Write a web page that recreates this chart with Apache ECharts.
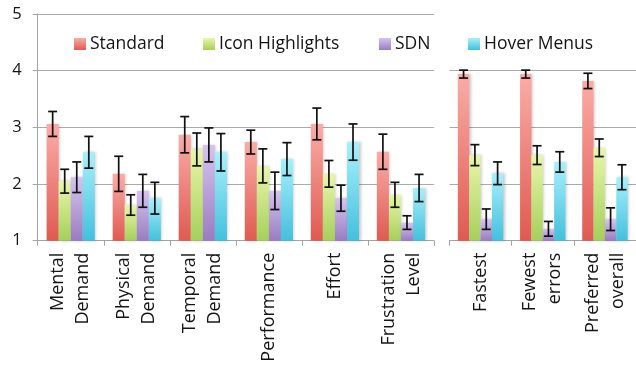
<!DOCTYPE html>
<html>
<head>
<meta charset="utf-8">
<script src="https://cdn.jsdelivr.net/npm/echarts@6/dist/echarts.min.js"></script>
<style>html,body{margin:0;padding:0;background:#fff}#c{width:636px;height:365px}</style>
</head>
<body>
<div id="c"></div>
<script>
const seriesNames = ['Standard', 'Icon Highlights', 'SDN', 'Hover Menus'];
const categoriesLeft = ['Mental\nDemand', 'Physical\nDemand', 'Temporal\nDemand', 'Performance', 'Effort', 'Frustration\nLevel'];
const categoriesRight = ['Fastest', 'Fewest\nerrors', 'Preferred\noverall'];
const yTicks = [1, 2, 3, 4, 5];

const standardLeft = [3.06, 2.18, 2.87, 2.74, 3.06, 2.57];
const standardLeftErr = [0.22, 0.31, 0.32, 0.21, 0.28, 0.31];
const iconLeft = [2.05, 1.63, 2.61, 2.32, 2.18, 1.81];
const iconLeftErr = [0.21, 0.18, 0.29, 0.30, 0.235, 0.22];
const sdnLeft = [2.12, 1.88, 2.69, 1.88, 1.75, 1.32];
const sdnLeftErr = [0.27, 0.29, 0.30, 0.33, 0.23, 0.12];
const hoverLeft = [2.56, 1.75, 2.56, 2.44, 2.74, 1.93];
const hoverLeftErr = [0.28, 0.28, 0.33, 0.29, 0.32, 0.24];

const standardRight = [3.94, 3.94, 3.82];
const standardRightErr = [0.07, 0.07, 0.135];
const iconRight = [2.51, 2.51, 2.64];
const iconRightErr = [0.185, 0.165, 0.155];
const sdnRight = [1.38, 1.21, 1.38];
const sdnRightErr = [0.18, 0.13, 0.20];
const hoverRight = [2.19, 2.39, 2.12];
const hoverRightErr = [0.20, 0.18, 0.22];

const leftVals = [standardLeft, iconLeft, sdnLeft, hoverLeft];
const leftErrs = [standardLeftErr, iconLeftErr, sdnLeftErr, hoverLeftErr];
const rightVals = [standardRight, iconRight, sdnRight, hoverRight];
const rightErrs = [standardRightErr, iconRightErr, sdnRightErr, hoverRightErr];

const FONT = 'Open Sans';
const gradStops = [
  ['#fbaca8', '#df5a51'],
  ['#e8f6aa', '#a6cf5b'],
  ['#d6c4ef', '#9a7cc1'],
  ['#a8f0fc', '#43c0dc']
];
function grad(i) {
  return new echarts.graphic.LinearGradient(0, 0, 0, 1, [
    { offset: 0, color: gradStops[i][0] },
    { offset: 1, color: gradStops[i][1] }
  ]);
}
const CAT_GAP = 0.27;

function errSeries(gi, idx, vals, errs) {
  return {
    type: 'custom',
    xAxisIndex: gi, yAxisIndex: gi,
    silent: true,
    z: 10,
    clip: false,
    data: vals.map((v, k) => [k, v, errs[k]]),
    encode: { x: 0, y: 1 },
    renderItem: function (params, api) {
      const ci = api.value(0), v = api.value(1), e = api.value(2);
      const band = api.size([1, 0])[0];
      const bw = band * (1 - CAT_GAP) / 4;
      const c = api.coord([ci, v]);
      const x = c[0] + (idx - 1.5) * bw;
      const top = api.coord([ci, v + e])[1];
      const bot = api.coord([ci, v - e])[1];
      const hw = 4.5;
      const st = { stroke: '#111', lineWidth: 1.7 };
      return {
        type: 'group',
        children: [
          { type: 'line', shape: { x1: x, y1: top, x2: x, y2: bot }, style: st },
          { type: 'line', shape: { x1: x - hw, y1: top, x2: x + hw, y2: top }, style: st },
          { type: 'line', shape: { x1: x - hw, y1: bot, x2: x + hw, y2: bot }, style: st }
        ]
      };
    }
  };
}

const series = [];
[0, 1].forEach(gi => {
  const vals = gi === 0 ? leftVals : rightVals;
  const errs = gi === 0 ? leftErrs : rightErrs;
  seriesNames.forEach((name, i) => {
    series.push({
      type: 'bar', name: name,
      xAxisIndex: gi, yAxisIndex: gi,
      data: vals[i],
      barGap: '0%', barCategoryGap: (CAT_GAP * 100) + '%',
      itemStyle: { color: grad(i), shadowColor: 'rgba(0,0,0,0.22)', shadowBlur: 3, shadowOffsetX: 1.5 },
      emphasis: { disabled: true }
    });
  });
  seriesNames.forEach((name, i) => series.push(errSeries(gi, i, vals[i], errs[i])));
});

const axisGray = '#a3a3a3';
const xLabel = { rotate: 90, interval: 0, fontSize: 18, fontFamily: FONT, color: '#141414', margin: 12, lineHeight: 25 };

const legendLefts = [74, 203, 379, 468];
const legends = seriesNames.map((n, i) => ({
  data: [n], left: legendLefts[i], top: 34, padding: 0,
  icon: 'rect', itemWidth: 12, itemHeight: 12, itemGap: 0,
  textStyle: { fontSize: 17.5, fontFamily: FONT, color: '#141414', lineHeight: 20, padding: [0, 0, 0, -1] },
  selectedMode: false
}));

const chart = echarts.init(document.getElementById('c'), null, { renderer: 'canvas' });
chart.setOption({
  animation: false,
  backgroundColor: '#fff',
  legend: legends,
  grid: [
    { left: 37.7, top: 14, width: 396.3, height: 226.7, containLabel: false },
    { left: 449.5, top: 70.7, width: 193.5, height: 170, containLabel: false }
  ],
  xAxis: [
    { type: 'category', gridIndex: 0, data: categoriesLeft,
      axisLine: { lineStyle: { color: axisGray, width: 1 } },
      axisTick: { show: true, length: 5, lineStyle: { color: axisGray } },
      axisLabel: xLabel },
    { type: 'category', gridIndex: 1, data: categoriesRight,
      axisLine: { lineStyle: { color: axisGray, width: 1 } },
      axisTick: { show: true, length: 5, lineStyle: { color: axisGray } },
      axisLabel: xLabel }
  ],
  yAxis: [
    { type: 'value', gridIndex: 0, min: yTicks[0], max: yTicks[yTicks.length - 1], interval: 1, startValue: 1,
      axisLine: { show: true, lineStyle: { color: axisGray } },
      axisTick: { show: true, length: 5, lineStyle: { color: axisGray } },
      splitLine: { lineStyle: { color: '#ababab', width: 1.2 } },
      axisLabel: { fontSize: 16.5, fontFamily: FONT, color: '#141414', margin: 16 } },
    { type: 'value', gridIndex: 1, min: 1, max: 4, interval: 1, startValue: 1,
      axisLine: { show: false }, axisTick: { show: false },
      axisLabel: { show: false },
      splitLine: { lineStyle: { color: '#ababab', width: 1.2 } } }
  ],
  series: series
});
</script>
</body>
</html>
